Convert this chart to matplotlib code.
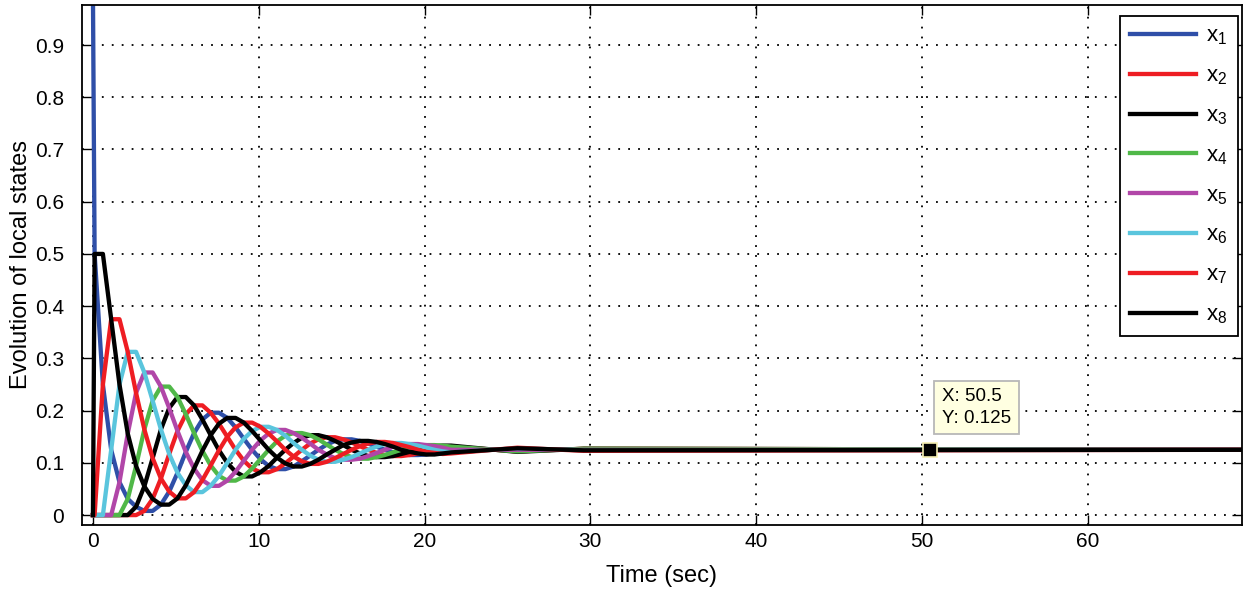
import matplotlib
matplotlib.use('Agg')
import matplotlib.pyplot as plt

# time samples (sec)
t = [0, 0.1, 0.6, 1.1, 1.6, 2.1, 2.6, 3.1, 3.6, 4.1,
     4.6, 5.1, 5.6, 6.1, 6.6, 7.1, 7.6, 8.1, 8.6, 9.1,
     9.6, 10.1, 10.6, 11.1, 11.6, 12.1, 12.6, 13.1, 13.6, 14.1,
     14.6, 15.1, 15.6, 16.1, 16.6, 17.1, 17.6, 18.1, 18.6, 19.1,
     19.6, 20.1, 20.6, 21.1, 21.6, 25.6, 29.6, 69.3]

x1 = [1, .5, .25, .125, .063, .031, .016, .008, .008, .020,
      .045, .081, .121, .157, .183, .196, .196, .186, .168, .146,
      .125, .107, .094, .088, .088, .093, .103, .114, .125, .135,
      .142, .145, .145, .142, .137, .131, .125, .120, .117, .115,
      .115, .116, .119, .122, .125, .125, .125, .125]
x2 = [0, 0, 0, 0, 0, 0, 0, .008, .031, .070,
      .117, .161, .193, .210, .210, .196, .175, .150, .125, .104,
      .089, .082, .082, .088, .099, .112, .125, .137, .145, .149,
      .149, .145, .139, .132, .125, .119, .115, .113, .113, .115,
      .118, .122, .125, .129, .131, .122, .127, .125]
x3 = [0, 0, 0, 0, 0, 0, .016, .055, .109, .164,
      .205, .226, .226, .210, .183, .153, .124, .100, .083, .074,
      .074, .082, .094, .110, .125, .138, .148, .153, .153, .149,
      .142, .134, .125, .118, .113, .111, .111, .113, .117, .121,
      .125, .129, .132, .133, .133, .121, .127, .125]
x4 = [0, 0, 0, 0, 0, .031, .094, .164, .219, .246,
      .246, .226, .193, .157, .123, .095, .075, .066, .066, .074,
      .089, .107, .125, .141, .152, .157, .157, .153, .145, .135,
      .125, .117, .111, .108, .108, .111, .115, .120, .125, .130,
      .133, .134, .134, .133, .131, .122, .127, .125]
x5 = [0, 0, 0, 0, .063, .156, .234, .273, .273, .246,
      .205, .161, .121, .089, .067, .056, .056, .066, .083, .104,
      .125, .143, .156, .163, .163, .157, .148, .137, .125, .116,
      .109, .106, .106, .108, .113, .119, .125, .131, .134, .136,
      .136, .134, .132, .129, .125, .125, .125, .125]
x6 = [0, 0, 0, .125, .25, .3125, .3125, .273, .219, .164,
      .117, .081, .057, .044, .044, .056, .075, .100, .125, .146,
      .161, .169, .169, .163, .152, .138, .125, .114, .106, .102,
      .102, .106, .111, .118, .125, .131, .136, .138, .138, .136,
      .133, .129, .125, .122, .120, .128, .124, .125]
x7 = [0, 0, .25, .375, .375, .3125, .234, .164, .109, .070,
      .045, .032, .032, .044, .067, .095, .124, .150, .168, .177,
      .177, .169, .156, .141, .125, .112, .103, .098, .098, .102,
      .109, .117, .125, .132, .137, .140, .140, .138, .134, .130,
      .125, .121, .119, .117, .118, .129, .123, .125]
x8 = [0, .5, .5, .375, .25, .156, .094, .055, .031, .020,
      .020, .032, .057, .089, .123, .153, .175, .186, .186, .177,
      .161, .143, .125, .110, .099, .093, .093, .098, .106, .116,
      .125, .134, .139, .142, .142, .140, .136, .131, .125, .121,
      .118, .116, .116, .118, .120, .128, .124, .125]

series = [x1, x2, x3, x4, x5, x6, x7, x8]
labels = ['x$_1$', 'x$_2$', 'x$_3$', 'x$_4$', 'x$_5$', 'x$_6$', 'x$_7$', 'x$_8$']
colors = ['#2f4fa8', '#ee1d23', '#000000', '#50b848',
          '#b146a8', '#5ac5dd', '#ee1d23', '#000000']

yticks = [0, 0.1, 0.2, 0.3, 0.4, 0.5, 0.6, 0.7, 0.8, 0.9]
ytick_labels = ['0', '0.1', '0.2', '0.3', '0.4', '0.5', '0.6', '0.7', '0.8', '0.9']
xticks = [0, 10, 20, 30, 40, 50, 60]

tip_x = 50.5
tip_y = 0.125

plt.rcParams['font.family'] = ['Liberation Sans', 'DejaVu Sans']
plt.rcParams['mathtext.default'] = 'regular'

fig = plt.figure(figsize=(12.5, 6), dpi=100)
ax = fig.add_axes([0.0656, 0.125, 0.928, 0.867])

for y, lab, c in zip(series, labels, colors):
    ax.plot(t, y, color=c, lw=3.1, label=lab)

ax.set_xlim(-0.66, 69.3)
ax.set_ylim(-0.019, 0.977)
ax.set_xticks(xticks)
ax.set_yticks(yticks)
ax.set_yticklabels(ytick_labels)
ax.tick_params(direction='in', length=7, width=1, labelsize=15,
               top=True, right=True)
ax.tick_params(axis='y', pad=13)
ax.tick_params(axis='x', pad=5)
ax.grid(True, color='black', linestyle=(0, (1, 4.5)), lw=1.3)
for s in ax.spines.values():
    s.set_linewidth(1.3)

ax.set_xlabel('Time (sec)', fontsize=17, labelpad=10)
ax.set_ylabel('Evolution of local states', fontsize=17, labelpad=2)

# data tip
ax.plot([tip_x], [tip_y], marker='s', ms=10, color='black',
        markeredgecolor='#f5eeb0', mew=1.2, zorder=5)
ax.text(51.2, 0.243, 'X: 50.5\nY: 0.125', fontsize=13.5, va='top', ha='left',
        linespacing=1.35,
        bbox=dict(boxstyle='square,pad=0.4', facecolor='#ffffe1',
                  edgecolor='#b8b8b8', lw=1.3), zorder=6)

leg = ax.legend(loc='upper right', fontsize=16, handlelength=3.0,
                labelspacing=0.82, borderpad=0.45, handletextpad=0.45,
                borderaxespad=0, fancybox=False, framealpha=1,
                edgecolor='black', bbox_to_anchor=(0.9965, 0.979))
leg.get_frame().set_linewidth(1.3)

fig.savefig('out.png', dpi=100)
